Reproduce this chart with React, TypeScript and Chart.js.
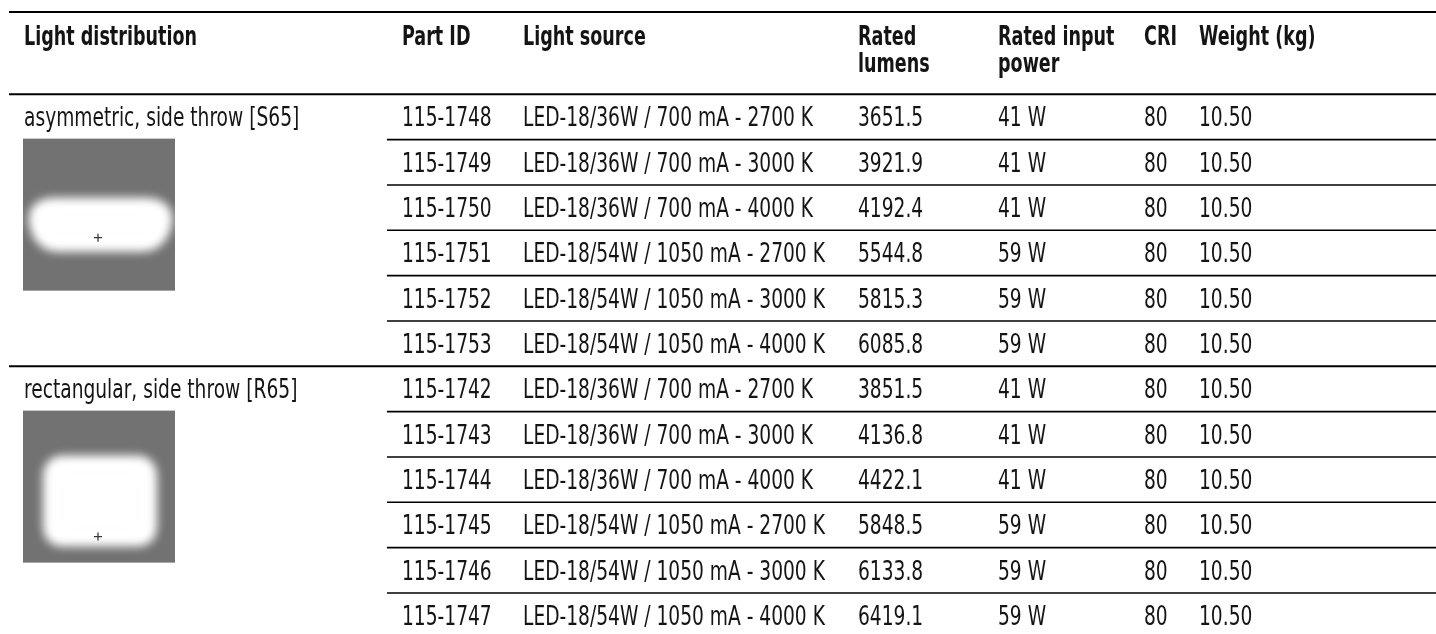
import React, { useEffect, useRef } from 'react';
import { Chart, registerables } from 'chart.js';

Chart.register(...registerables);

// ---------- data ----------
const headerLines: string[][] = [
  ['Light distribution'],
  ['Part ID'],
  ['Light source'],
  ['Rated', 'lumens'],
  ['Rated input', 'power'],
  ['CRI'],
  ['Weight (kg)'],
];

const distributions = ['asymmetric, side throw [S65]', 'rectangular, side throw [R65]'];
const distributionStartRow = [0, 6];
const distributionShape = ['asymmetric', 'rectangular'];

const partIds = [
  '115-1748', '115-1749', '115-1750', '115-1751', '115-1752', '115-1753',
  '115-1742', '115-1743', '115-1744', '115-1745', '115-1746', '115-1747',
];

const lightSources = [
  'LED-18/36W / 700 mA - 2700 K',
  'LED-18/36W / 700 mA - 3000 K',
  'LED-18/36W / 700 mA - 4000 K',
  'LED-18/54W / 1050 mA - 2700 K',
  'LED-18/54W / 1050 mA - 3000 K',
  'LED-18/54W / 1050 mA - 4000 K',
  'LED-18/36W / 700 mA - 2700 K',
  'LED-18/36W / 700 mA - 3000 K',
  'LED-18/36W / 700 mA - 4000 K',
  'LED-18/54W / 1050 mA - 2700 K',
  'LED-18/54W / 1050 mA - 3000 K',
  'LED-18/54W / 1050 mA - 4000 K',
];

const ratedLumens = [3651.5, 3921.9, 4192.4, 5544.8, 5815.3, 6085.8, 3851.5, 4136.8, 4422.1, 5848.5, 6133.8, 6419.1];
const ratedPowerW = [41, 41, 41, 59, 59, 59, 41, 41, 41, 59, 59, 59];
const criValues = [80, 80, 80, 80, 80, 80, 80, 80, 80, 80, 80, 80];
const weightKg = [10.5, 10.5, 10.5, 10.5, 10.5, 10.5, 10.5, 10.5, 10.5, 10.5, 10.5, 10.5];

// ---------- layout (not data) ----------
const W = 1436;
const H = 650;
const VIEW_H = 634;
const COL_X = [24, 402, 523, 858, 998, 1144, 1199];
const FULL_LINE_X = 9;
const ROW_LINE_X = 387;
const TOP_LINE_Y = 12;
const HEADER_BOTTOM = 94.3;
const ROW_H = 45.33;
const FONT_SIZE = 26;
const TEXT_COLOR = '#141414';

function pickFont(): { family: string; sx: number; sxBold: number } {
  const c = document.createElement('canvas').getContext('2d')!;
  const probe = 'LED-18/36W / 700 mA - 2700 K';
  const probeBold = 'Light distribution';
  const has = (fam: string) => {
    c.font = '40px monospace';
    const a = c.measureText(probe).width;
    c.font = `40px "${fam}", monospace`;
    const b = c.measureText(probe).width;
    return Math.abs(a - b) > 0.5;
  };
  let family = '"Liberation Sans"';
  if (has('Liberation Sans Narrow')) family = '"Liberation Sans Narrow"';
  else if (has('DejaVu Sans Condensed')) family = '"DejaVu Sans Condensed"';
  c.font = `${FONT_SIZE}px ${family}, sans-serif`;
  const sx = 290 / c.measureText(probe).width;
  c.font = `bold ${FONT_SIZE}px ${family}, sans-serif`;
  const sxBold = 173 / c.measureText(probeBold).width;
  return { family, sx, sxBold };
}

export default function App() {
  const ref = useRef<HTMLCanvasElement | null>(null);

  useEffect(() => {
    document.body.style.margin = '0';
    const canvas = ref.current!;
    const { family, sx, sxBold } = pickFont();

    const text = (ctx: CanvasRenderingContext2D, s: string, x: number, baseline: number, bold = false) => {
      ctx.save();
      ctx.font = `${bold ? 'bold ' : ''}${FONT_SIZE}px ${family}, sans-serif`;
      ctx.fillStyle = TEXT_COLOR;
      ctx.textBaseline = 'alphabetic';
      ctx.textAlign = 'left';
      ctx.translate(x, baseline);
      ctx.scale(bold ? sxBold : sx, 1);
      ctx.fillText(s, 0, 0);
      ctx.restore();
    };

    const hline = (ctx: CanvasRenderingContext2D, x0: number, y: number, lw: number) => {
      ctx.save();
      ctx.strokeStyle = '#000';
      ctx.lineWidth = lw;
      ctx.beginPath();
      ctx.moveTo(x0, y);
      ctx.lineTo(W, y);
      ctx.stroke();
      ctx.restore();
    };

    const drawPattern = (ctx: CanvasRenderingContext2D, kind: string, x: number, y: number) => {
      const S = 152;
      ctx.save();
      ctx.fillStyle = '#727272';
      ctx.fillRect(x, y, S, S);
      ctx.beginPath();
      ctx.rect(x, y, S, S);
      ctx.clip();
      ctx.translate(x, y);
      ctx.filter = 'blur(5px)';
      ctx.fillStyle = '#ffffff';
      ctx.strokeStyle = '#ffffff';
      ctx.lineJoin = 'round';
      ctx.lineWidth = 24;
      ctx.beginPath();
      let px: number, py: number;
      if (kind === 'asymmetric') {
        ctx.moveTo(32, 71);
        ctx.lineTo(122, 71);
        ctx.quadraticCurveTo(140, 71, 137, 84);
        ctx.quadraticCurveTo(133, 101, 120, 101);
        ctx.lineTo(34, 101);
        ctx.quadraticCurveTo(22, 101, 18, 84);
        ctx.quadraticCurveTo(15, 71, 32, 71);
        px = 75; py = 99;
      } else {
        ctx.moveTo(40, 57);
        ctx.lineTo(114, 57);
        ctx.quadraticCurveTo(122, 57, 122, 66);
        ctx.lineTo(122, 116);
        ctx.quadraticCurveTo(122, 124, 114, 124);
        ctx.lineTo(40, 124);
        ctx.quadraticCurveTo(32, 124, 32, 116);
        ctx.lineTo(32, 66);
        ctx.quadraticCurveTo(32, 57, 40, 57);
        px = 75; py = 126;
      }
      ctx.closePath();
      ctx.fill();
      ctx.stroke();
      ctx.filter = 'none';
      ctx.strokeStyle = '#3a3a3a';
      ctx.lineWidth = 1.3;
      ctx.beginPath();
      ctx.moveTo(px - 4, py);
      ctx.lineTo(px + 4, py);
      ctx.moveTo(px, py - 4);
      ctx.lineTo(px, py + 4);
      ctx.stroke();
      ctx.restore();
    };

    const tablePlugin = {
      id: 'tablePlugin',
      afterDraw(chart: any) {
        const ctx: CanvasRenderingContext2D = chart.ctx;
        const ys = chart.scales.y;
        const xs = chart.scales.x;
        const area = chart.chartArea;
        const colPx = COL_X.map((v) => xs.getPixelForValue(v));
        const capH = FONT_SIZE * 0.716;
        const half = (ys.getPixelForValue(1) - ys.getPixelForValue(0)) / 2;

        // header lines
        hline(ctx, xs.getPixelForValue(FULL_LINE_X), TOP_LINE_Y, 2);
        hline(ctx, xs.getPixelForValue(FULL_LINE_X), area.top, 2);

        // header text
        headerLines.forEach((lines, c) => {
          lines.forEach((s, k) => text(ctx, s, colPx[c], 45 + k * 27, true));
        });

        // row boundaries
        for (let i = 1; i <= partIds.length; i++) {
          const y = ys.getPixelForValue(i - 1) + half;
          const groupStart = distributionStartRow.includes(i);
          hline(ctx, xs.getPixelForValue(groupStart ? FULL_LINE_X : ROW_LINE_X), y, groupStart ? 2 : 1.6);
        }

        // cells
        partIds.forEach((id, i) => {
          const yc = ys.getPixelForValue(i);
          const bl = yc + capH / 2;
          text(ctx, id, colPx[1], bl);
          text(ctx, lightSources[i], colPx[2], bl);
          text(ctx, ratedLumens[i].toFixed(1), colPx[3], bl);
          text(ctx, `${ratedPowerW[i]} W`, colPx[4], bl);
          text(ctx, String(criValues[i]), colPx[5], bl);
          text(ctx, weightKg[i].toFixed(2), colPx[6], bl);
        });

        // distribution labels + pattern images
        distributions.forEach((d, g) => {
          const r = distributionStartRow[g];
          const yc = ys.getPixelForValue(r);
          text(ctx, d, colPx[0], yc + capH / 2);
          drawPattern(ctx, distributionShape[g], colPx[0] - 1, yc + half - 1);
        });
      },
    };

    const chart = new Chart(canvas, {
      type: 'bar',
      data: { labels: partIds, datasets: [] },
      options: {
        animation: false,
        responsive: false,
        events: [],
        layout: {
          padding: { top: HEADER_BOTTOM, bottom: H - HEADER_BOTTOM - ROW_H * partIds.length, left: 0, right: 0 },
        },
        plugins: { legend: { display: false }, tooltip: { enabled: false }, title: { display: false } },
        scales: {
          x: { type: 'linear', min: 0, max: W, offset: false, display: false, grid: { offset: false } },
          y: { type: 'category', labels: partIds, offset: true, display: false },
        },
      },
      plugins: [tablePlugin],
    });
    return () => chart.destroy();
  }, []);

  return (
    <div style={{ width: W, height: VIEW_H, overflow: 'hidden', background: '#fff' }}>
      <canvas ref={ref} width={W} height={H} style={{ display: 'block' }} />
    </div>
  );
}
